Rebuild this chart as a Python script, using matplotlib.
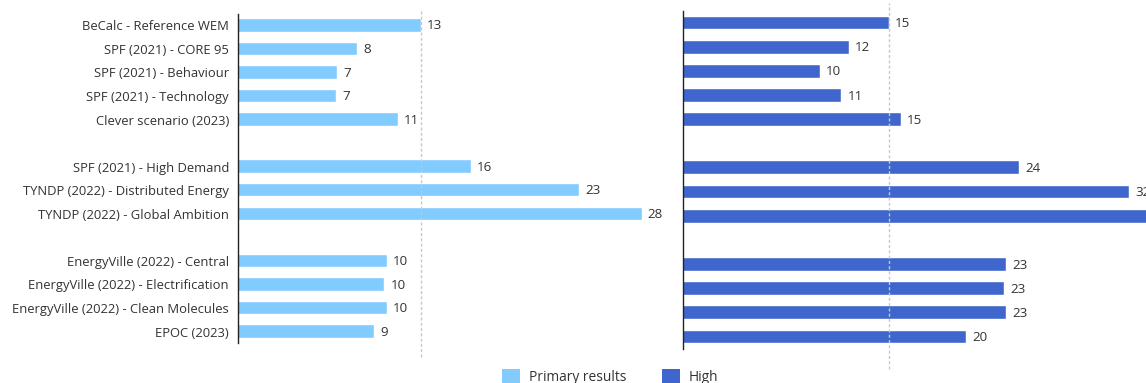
import matplotlib
matplotlib.use("Agg")
import matplotlib.pyplot as plt
from matplotlib.patches import Patch

plt.rcParams['font.family'] = ['Open Sans', 'DejaVu Sans']

categories = [
    "BeCalc - Reference WEM",
    "SPF (2021) - CORE 95",
    "SPF (2021) - Behaviour",
    "SPF (2021) - Technology",
    "Clever scenario (2023)",
    "SPF (2021) - High Demand",
    "TYNDP (2022) - Distributed Energy",
    "TYNDP (2022) - Global Ambition",
    "EnergyVille (2022) - Central",
    "EnergyVille (2022) - Electrification",
    "EnergyVille (2022) - Clean Molecules",
    "EPOC (2023)",
]
# slot index of each category (one empty slot between groups)
slots = [0, 1, 2, 3, 4, 6, 7, 8, 10, 11, 12, 13]

primary_values = [12.56, 8.19, 6.77, 6.71, 10.96, 15.99, 23.4, 27.7, 10.2, 10.04, 10.2, 9.33]
primary_labels = ["13", "8", "7", "7", "11", "16", "23", "28", "10", "10", "10", "9"]

high_values = [14.58, 11.75, 9.70, 11.21, 15.43, 23.76, 31.54, 36.0, 22.84, 22.70, 22.84, 20.06]
high_labels = ["15", "12", "10", "11", "15", "24", "32", "36", "23", "23", "23", "20"]

c_primary = "#82CBFF"
c_high = "#3F66CC"
c_text = "#333333"
c_ref = "#C8C8C8"

W, H = 1146, 383
fig = plt.figure(figsize=(W / 100, H / 100), dpi=100)

def px_axes(left, top, right, bottom):
    return fig.add_axes([left / W, 1 - bottom / H, (right - left) / W, (bottom - top) / H])

ax1 = px_axes(238, 13.5, 238 + 14.57 * 30, 343.4)
ax2 = px_axes(683, 10.9, 683 + 14.13 * 40, 349.0)

fs_tick = 9.4
fs_val = 9.6
fs_leg = 9.9

def draw(ax, values, labels, color, xmax, ref_y0, ref_y1, show_labels):
    ax.barh(slots, values, height=0.53, color=color, edgecolor="white", linewidth=0.3)
    ax.set_xlim(0, xmax)
    ax.set_ylim(13.5, -0.5)
    for s in ["top", "right", "bottom"]:
        ax.spines[s].set_visible(False)
    ax.spines["left"].set_color("#222222")
    ax.spines["left"].set_linewidth(1.0)
    ax.set_xticks([])
    ax.set_yticks(slots)
    if show_labels:
        ax.set_yticklabels(categories, fontsize=fs_tick, color=c_text)
    else:
        ax.set_yticklabels([])
    ax.tick_params(axis="y", length=0, pad=6.5)
    ax.axvline(values[0], ymin=ref_y0, ymax=ref_y1, color=c_ref, lw=1.0,
               linestyle=(0, (2.2, 1.6)), clip_on=False, zorder=3)
    for s, v, lab in zip(slots, values, labels):
        ax.annotate(lab, (v, s), xytext=(4.5, -0.5), textcoords="offset points",
                    va="center", ha="left", fontsize=fs_val, color=c_text,
                    annotation_clip=False)

draw(ax1, primary_values, primary_labels, c_primary, 30, -0.041, 1.011, True)
draw(ax2, high_values, high_labels, c_high, 40, -0.059, 1.023, False)

handles = [Patch(facecolor=c_primary), Patch(facecolor=c_high)]
fig.legend(handles, ["Primary results", "High"], loc="center left",
           bbox_to_anchor=(502 / W, 1 - 377 / H), ncol=2, frameon=False,
           fontsize=fs_leg, handlelength=1.3, handleheight=1.2, handletextpad=0.65,
           columnspacing=2.6, borderpad=0, borderaxespad=0, labelcolor=c_text)

fig.savefig("out.png", dpi=100)
